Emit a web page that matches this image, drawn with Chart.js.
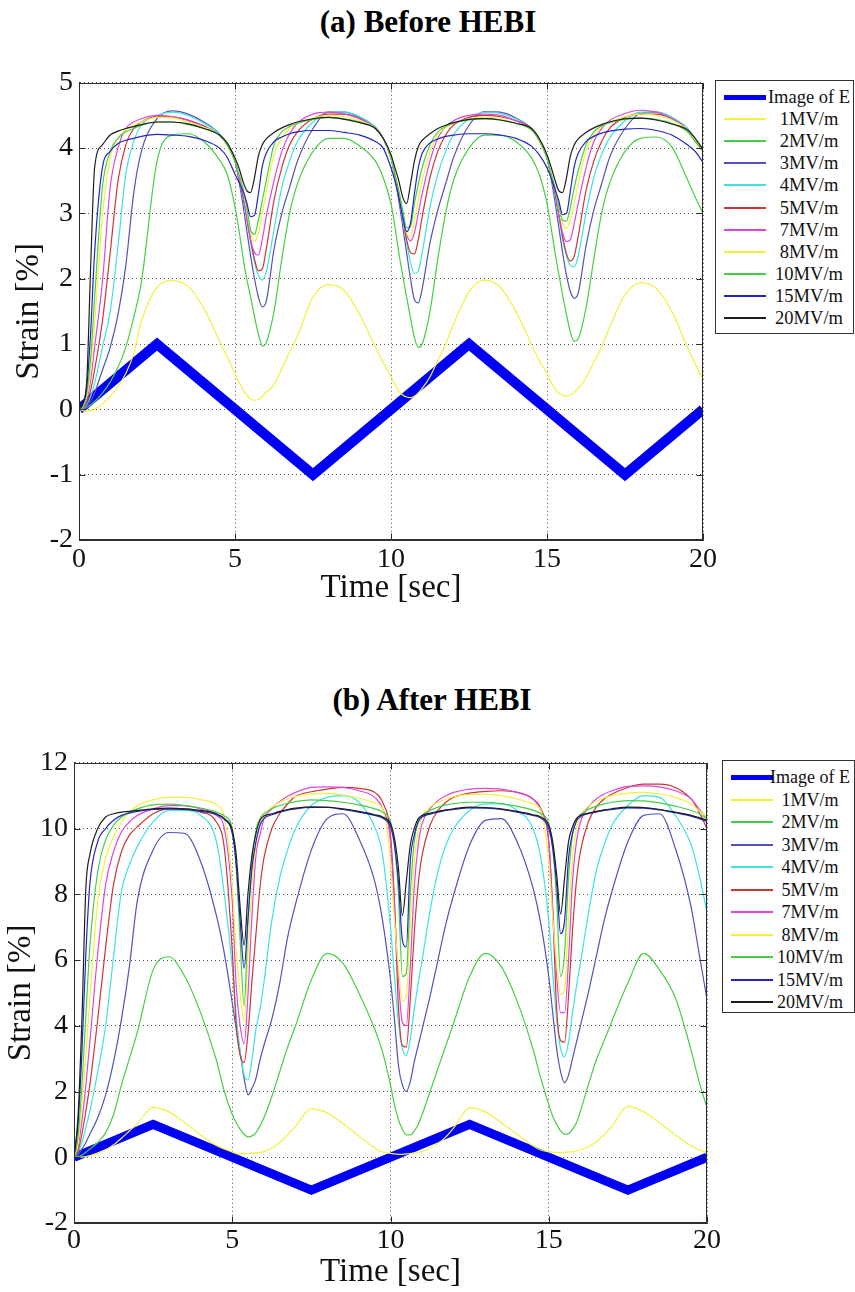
<!DOCTYPE html>
<html>
<head>
<meta charset="utf-8">
<script src="https://cdn.jsdelivr.net/npm/chart.js@4.4.1/dist/chart.umd.min.js"></script>
<style>
html,body{margin:0;padding:0;background:#fff;width:855px;height:1292px;overflow:hidden;position:relative;}
.title{position:absolute;font-family:"Liberation Serif","Times New Roman",serif;font-weight:bold;font-size:31px;line-height:34px;color:#000;white-space:nowrap;transform:translateX(-50%);}
.wrap{position:absolute;left:0;}
.legend{position:absolute;border:1px solid #333;background:#fff;font-family:"Liberation Serif","Times New Roman",serif;color:#111;z-index:2;}
.row{position:absolute;left:0;right:0;height:0;}
.sample{position:absolute;}
.lab{position:absolute;white-space:nowrap;transform:translate(-50%,-50%);top:0;}
</style>
</head>
<body>
<div class="title" style="left:428px;top:5px;">(a) Before HEBI</div>
<div class="wrap" style="top:60px;"><canvas id="cA" width="730" height="560"></canvas></div>
<div class="legend" id="legA" style="left:715px;top:80px;width:137px;height:252px;font-size:18.5px;"></div>

<div class="title" style="left:432px;top:683px;">(b) After HEBI</div>
<div class="wrap" style="top:740px;"><canvas id="cB" width="734" height="552"></canvas></div>
<div class="legend" id="legB" style="left:722px;top:760px;width:131px;height:251px;font-size:18px;"></div>

<script>
// ---------------- data ----------------
const TIME = [0,0.125,0.25,0.375,0.5,0.75,1,1.25,1.5,1.75,2,2.5,3,3.5,4,4.5,4.75,
  5,5.125,5.25,5.375,5.5,5.625,5.75,5.875,6,6.25,6.5,6.75,7,7.5,8,8.5,9,9.5,9.75,
  10,10.125,10.25,10.375,10.5,10.625,10.75,10.875,11,11.25,11.5,11.75,12,12.5,13,13.5,14,14.5,14.75,
  15,15.125,15.25,15.375,15.5,15.625,15.75,15.875,16,16.25,16.5,16.75,17,17.5,18,18.5,19,19.5,19.75,
  20];

const E_TIME = [0, 2.5, 7.5, 12.5, 17.5, 20];
const E_VALUES = [0, 1, -1, 1, -1, 0];

const E_LABEL = 'Image of E';
const FIELD_LABELS = ['1MV/m','2MV/m','3MV/m','4MV/m','5MV/m','7MV/m','8MV/m','10MV/m','15MV/m','20MV/m'];

// (a) Before HEBI
const A_1 = [0,-0.02,-0.03,-0.02,0,0.08,0.2,0.35,0.55,0.85,1.35,1.87,1.97,1.88,1.55,1.05,0.8,
  0.55,0.42,0.3,0.22,0.16,0.14,0.15,0.2,0.26,0.38,0.62,0.88,1.12,1.72,1.91,1.82,1.45,0.95,0.72,
  0.5,0.38,0.28,0.22,0.19,0.18,0.2,0.25,0.32,0.5,0.75,1.0,1.3,1.8,1.98,1.87,1.5,1.0,0.75,
  0.55,0.42,0.32,0.25,0.21,0.2,0.22,0.26,0.32,0.48,0.72,0.95,1.25,1.75,1.94,1.85,1.5,0.95,0.7,
  0.46];
const A_2 = [0,0.01,0.03,0.07,0.12,0.25,0.42,0.65,0.95,1.4,1.95,3.8,4.2,4.22,4.1,3.82,3.6,
  3.1,2.75,2.35,2.0,1.72,1.42,1.15,0.97,1.02,1.5,2.3,3.0,3.45,3.95,4.15,4.15,4.03,3.8,3.55,
  3.15,2.8,2.4,2.05,1.72,1.4,1.1,0.95,1.0,1.5,2.3,3.0,3.5,4.0,4.2,4.2,4.1,3.85,3.6,
  3.15,2.8,2.42,2.08,1.75,1.45,1.18,1.04,1.08,1.55,2.3,3.0,3.45,3.95,4.15,4.17,4.02,3.52,3.25,
  3.0];
const A_3 = [0,0.01,0.04,0.12,0.25,0.6,0.95,1.45,2.2,3.3,3.95,4.45,4.57,4.52,4.4,4.22,4.05,
  3.8,3.5,3.15,2.75,2.35,2.0,1.72,1.57,1.65,2.45,3.0,3.4,3.8,4.3,4.55,4.55,4.47,4.32,4.15,
  3.85,3.55,3.2,2.8,2.4,2.0,1.68,1.63,1.85,2.55,3.05,3.45,3.85,4.35,4.56,4.55,4.46,4.3,4.12,
  3.85,3.55,3.2,2.8,2.4,2.05,1.8,1.7,1.78,2.5,3.05,3.45,3.85,4.3,4.53,4.55,4.47,4.3,4.12,
  3.95];
const A_4 = [0,0.01,0.07,0.2,0.4,0.95,1.5,2.5,3.6,4.1,4.35,4.5,4.55,4.5,4.38,4.22,4.05,
  3.8,3.55,3.25,2.9,2.55,2.25,2.05,1.98,2.1,2.75,3.4,3.8,4.1,4.4,4.55,4.55,4.48,4.32,4.15,
  3.85,3.58,3.28,2.9,2.55,2.25,2.08,2.12,2.4,3.1,3.6,3.95,4.2,4.45,4.55,4.53,4.45,4.3,4.12,
  3.85,3.6,3.3,2.95,2.6,2.35,2.2,2.18,2.35,3.0,3.55,3.9,4.15,4.42,4.55,4.55,4.47,4.3,4.12,
  3.95];
const A_5 = [0,0.02,0.1,0.3,0.6,1.35,2.4,3.5,4.05,4.3,4.4,4.48,4.48,4.43,4.34,4.2,4.05,
  3.8,3.55,3.28,2.95,2.6,2.3,2.12,2.15,2.45,3.2,3.7,4.05,4.25,4.45,4.52,4.52,4.45,4.3,4.15,
  3.85,3.6,3.3,2.95,2.6,2.4,2.38,2.6,2.95,3.55,3.95,4.2,4.35,4.47,4.5,4.48,4.42,4.3,4.12,
  3.85,3.6,3.33,3.0,2.65,2.38,2.27,2.35,2.65,3.35,3.8,4.1,4.3,4.47,4.52,4.52,4.45,4.28,4.12,
  3.95];
const A_7 = [0,0.03,0.15,0.45,0.95,1.95,3.4,4.0,4.3,4.4,4.45,4.5,4.48,4.42,4.33,4.2,4.05,
  3.8,3.55,3.3,2.95,2.6,2.4,2.36,2.6,2.95,3.5,3.95,4.22,4.38,4.52,4.55,4.52,4.45,4.3,4.15,
  3.85,3.6,3.3,2.95,2.68,2.58,2.7,3.0,3.3,3.8,4.15,4.33,4.42,4.5,4.52,4.5,4.42,4.3,4.12,
  3.85,3.6,3.35,3.0,2.7,2.57,2.6,2.85,3.15,3.7,4.1,4.3,4.42,4.53,4.58,4.55,4.45,4.28,4.12,
  3.95];
const A_8 = [0,0.04,0.2,0.6,1.3,2.95,3.85,4.15,4.28,4.35,4.4,4.47,4.46,4.4,4.32,4.2,4.05,
  3.8,3.6,3.38,3.05,2.72,2.57,2.7,3.0,3.33,3.9,4.15,4.3,4.38,4.46,4.5,4.48,4.42,4.3,4.15,
  3.85,3.6,3.35,3.0,2.7,2.65,2.9,3.2,3.5,3.95,4.2,4.32,4.38,4.45,4.47,4.45,4.38,4.28,4.12,
  3.85,3.62,3.4,3.1,2.85,2.77,2.9,3.15,3.45,3.95,4.2,4.33,4.4,4.48,4.52,4.5,4.43,4.28,4.12,
  3.95];
const A_10 = [0,0.05,0.25,0.8,1.7,3.4,3.95,4.15,4.25,4.3,4.35,4.4,4.4,4.36,4.3,4.2,4.05,
  3.8,3.6,3.4,3.1,2.75,2.68,2.9,3.2,3.5,4.05,4.25,4.33,4.38,4.44,4.47,4.45,4.4,4.3,4.15,
  3.85,3.6,3.35,3.05,2.78,2.8,3.15,3.45,3.7,4.05,4.25,4.33,4.38,4.43,4.45,4.43,4.38,4.28,4.12,
  3.85,3.62,3.4,3.12,2.9,2.88,3.1,3.4,3.65,4.05,4.25,4.34,4.39,4.44,4.46,4.44,4.38,4.25,4.1,
  3.95];
const A_15 = [0,0.08,0.35,1.2,2.4,3.7,3.95,4.07,4.12,4.15,4.18,4.21,4.2,4.18,4.12,4.0,3.86,
  3.6,3.48,3.35,3.17,2.95,2.97,3.3,3.72,3.92,4.1,4.17,4.22,4.25,4.27,4.27,4.24,4.2,4.1,4.0,
  3.7,3.5,3.25,2.95,2.72,2.85,3.3,3.7,3.92,4.08,4.14,4.18,4.2,4.22,4.22,4.2,4.15,4.03,3.9,
  3.7,3.55,3.38,3.2,2.98,3.0,3.35,3.72,3.92,4.1,4.18,4.23,4.26,4.29,4.3,4.27,4.2,4.05,3.95,
  3.78];
const A_20 = [0,0.1,0.45,2.2,3.7,4.05,4.2,4.26,4.3,4.33,4.36,4.4,4.4,4.37,4.3,4.2,4.08,
  3.85,3.7,3.5,3.35,3.32,3.55,3.88,4.05,4.14,4.24,4.31,4.36,4.4,4.45,4.47,4.44,4.39,4.3,4.15,
  3.9,3.7,3.5,3.25,3.15,3.45,3.8,4.02,4.12,4.22,4.3,4.35,4.39,4.44,4.45,4.43,4.38,4.3,4.15,
  3.9,3.72,3.52,3.35,3.32,3.55,3.88,4.05,4.14,4.24,4.31,4.36,4.4,4.45,4.46,4.43,4.37,4.28,4.15,
  3.98];

// (b) After HEBI
const B_1 = [0,0,0.01,0.02,0.05,0.12,0.22,0.38,0.58,0.8,1.02,1.52,1.38,1.05,0.68,0.36,0.25,
  0.16,0.12,0.1,0.1,0.11,0.12,0.13,0.15,0.17,0.28,0.45,0.68,0.95,1.47,1.35,1.02,0.65,0.28,0.16,
  0.12,0.1,0.09,0.09,0.1,0.11,0.13,0.15,0.18,0.28,0.42,0.62,0.9,1.5,1.38,1.05,0.7,0.35,0.22,
  0.17,0.15,0.14,0.14,0.15,0.16,0.17,0.19,0.22,0.32,0.47,0.68,0.95,1.55,1.38,1.05,0.68,0.35,0.22,
  0.15];
const B_2 = [0,0.02,0.07,0.15,0.25,0.45,0.75,1.3,2.2,3.0,3.8,5.7,6.1,5.5,4.4,2.95,2.0,
  1.3,1.05,0.85,0.7,0.62,0.65,0.75,0.95,1.2,1.85,2.6,3.35,4.0,5.4,6.2,5.9,5.0,3.9,3.2,
  2.2,1.6,1.15,0.85,0.68,0.68,0.8,1.0,1.3,2.0,2.7,3.4,4.1,5.5,6.2,5.8,4.75,3.3,2.4,
  1.6,1.25,1.0,0.8,0.7,0.72,0.85,1.05,1.4,2.2,2.95,3.55,4.15,5.3,6.2,5.7,4.85,3.25,2.3,
  1.5];
const B_3 = [0,0.08,0.25,0.45,0.7,1.2,1.9,2.9,4.2,5.8,7.8,9.35,9.88,9.85,9.0,7.35,6.2,
  4.7,3.9,3.2,2.4,1.9,2.1,2.4,2.95,3.4,4.2,5.3,6.7,7.7,9.35,10.3,10.45,9.7,8.4,7.2,
  5.4,4.2,2.8,2.2,2.0,2.3,2.9,3.4,3.9,4.9,6.0,7.1,8.0,9.5,10.25,10.3,9.6,8.2,7.1,
  5.5,4.4,3.3,2.6,2.27,2.5,3.0,3.5,4.0,5.0,6.1,7.2,8.1,9.6,10.4,10.45,9.4,7.6,6.2,
  4.8];
const B_4 = [0,0.15,0.45,0.9,1.4,2.6,4.0,6.1,8.1,8.9,9.45,10.2,10.55,10.55,10.4,9.6,8.0,
  5.8,4.3,3.22,2.5,2.35,3.0,3.9,4.5,5.3,7.2,8.5,9.35,10.0,10.7,10.95,11.0,10.8,10.05,9.2,
  7.0,5.5,4.1,3.3,3.1,3.6,4.5,5.3,6.0,7.5,8.7,9.5,10.0,10.55,10.75,10.75,10.55,10.0,9.1,
  7.2,5.6,4.2,3.3,3.05,3.5,4.4,5.2,5.9,7.4,8.7,9.5,10.1,10.7,11.0,10.95,10.4,9.5,8.6,
  7.45];
const B_5 = [0,0.2,0.7,1.4,2.2,4.2,6.4,8.3,9.3,9.8,10.05,10.45,10.6,10.6,10.5,10.2,9.4,
  6.3,4.0,3.1,2.88,3.8,5.4,6.8,8.2,9.1,10.0,10.45,10.75,10.98,11.12,11.2,11.25,11.22,11.1,10.8,
  9.8,7.8,4.6,3.4,3.35,4.8,6.8,8.3,9.2,10.1,10.55,10.8,10.95,11.08,11.13,11.15,11.1,10.9,10.6,
  9.6,7.5,4.5,3.55,3.5,4.9,6.9,8.4,9.3,10.2,10.65,10.9,11.05,11.25,11.35,11.35,11.25,10.9,10.5,
  10.0];
const B_7 = [0,0.3,1.1,2.2,3.5,6.2,8.3,9.3,9.9,10.2,10.4,10.6,10.7,10.7,10.6,10.4,10.0,
  7.8,5.2,4.0,3.45,5.0,7.4,9.2,9.8,10.28,10.6,10.82,10.98,11.1,11.25,11.27,11.25,11.15,10.95,10.6,
  9.6,7.6,5.4,4.1,4.0,5.8,8.2,9.5,10.15,10.6,10.85,11.0,11.1,11.2,11.22,11.2,11.1,10.9,10.55,
  9.6,7.6,5.5,4.4,4.4,6.0,8.4,9.6,10.2,10.65,10.9,11.05,11.15,11.28,11.3,11.27,11.15,10.9,10.6,
  10.3];
const B_8 = [0,0.4,1.6,3.1,4.8,7.8,9.1,9.75,10.2,10.5,10.7,10.88,10.95,10.95,10.88,10.72,10.35,
  8.3,6.3,5.0,4.1,6.2,8.3,9.5,10.1,10.4,10.65,10.8,10.9,10.98,11.05,11.07,11.02,10.93,10.78,10.6,
  9.0,7.2,5.8,4.75,4.9,7.0,9.0,9.9,10.35,10.65,10.8,10.9,10.97,11.04,11.05,11.0,10.9,10.75,10.55,
  9.0,7.3,5.9,4.95,5.1,7.2,9.1,10.0,10.38,10.68,10.83,10.93,11.0,11.08,11.1,11.05,10.95,10.75,10.55,
  10.35];
const B_10 = [0,0.6,2.2,4.3,6.4,8.7,9.65,10.1,10.35,10.5,10.6,10.72,10.74,10.7,10.62,10.5,10.38,
  10.0,8.8,6.6,4.6,7.2,9.0,9.95,10.3,10.45,10.6,10.7,10.77,10.82,10.87,10.85,10.8,10.72,10.6,10.5,
  10.2,9.5,8.0,5.5,5.6,8.0,9.6,10.2,10.4,10.55,10.65,10.72,10.76,10.8,10.8,10.76,10.68,10.56,10.45,
  10.15,9.4,7.8,5.5,6.2,8.5,9.8,10.25,10.42,10.58,10.68,10.75,10.8,10.85,10.84,10.78,10.68,10.55,10.45,
  10.3];
const B_15 = [0,1.0,3.2,6.2,8.3,9.6,10.0,10.25,10.4,10.47,10.52,10.58,10.6,10.58,10.52,10.42,10.28,
  9.85,8.9,7.2,5.75,7.3,8.8,9.6,10.1,10.3,10.42,10.5,10.56,10.6,10.64,10.64,10.58,10.5,10.4,10.32,
  10.05,9.5,8.4,6.6,6.4,9.0,9.8,10.2,10.35,10.44,10.5,10.55,10.58,10.63,10.62,10.58,10.5,10.4,10.32,
  10.0,9.4,8.3,6.8,7.2,9.1,9.85,10.22,10.36,10.45,10.5,10.55,10.58,10.63,10.62,10.57,10.48,10.38,10.3,
  10.22];
const B_20 = [0,1.2,4.2,8.2,9.2,10.0,10.35,10.45,10.5,10.52,10.55,10.6,10.62,10.6,10.55,10.45,10.3,
  9.95,9.2,7.6,6.45,8.05,9.2,9.85,10.25,10.38,10.45,10.52,10.58,10.62,10.66,10.65,10.6,10.52,10.42,10.35,
  10.15,9.7,8.8,7.35,8.4,9.5,10.0,10.3,10.4,10.47,10.52,10.57,10.6,10.65,10.64,10.6,10.52,10.42,10.35,
  10.1,9.6,8.6,7.4,8.5,9.6,10.05,10.3,10.4,10.47,10.52,10.57,10.6,10.65,10.64,10.58,10.5,10.4,10.33,
  10.25];

const SERIES_A = [A_1, A_2, A_3, A_4, A_5, A_7, A_8, A_10, A_15, A_20];
const SERIES_B = [B_1, B_2, B_3, B_4, B_5, B_7, B_8, B_10, B_15, B_20];

// ---------------- styles ----------------
const E_COLOR = '#0000f5';
const FIELD_COLORS = ['#f2f23c','#46cf46','#5252b8','#3ce3e3','#cc3636','#e045e0','#f2f23c','#46cf46','#2424c8','#1e1e1e'];
const FONT = '"Liberation Serif", "Times New Roman", serif';

Chart.defaults.font.family = FONT;
Chart.defaults.color = '#111';

const framePlugin = {
  id: 'frame',
  afterDatasetsDraw(chart) {
    const {ctx, chartArea: a} = chart;
    const xs = chart.scales.x, ys = chart.scales.y;
    ctx.save();
    ctx.strokeStyle = '#2a2a2a';
    ctx.lineWidth = 1;
    ctx.setLineDash([]);
    const L = Math.round(a.left) + 0.5, R = Math.round(a.right) - 0.5;
    const T = Math.round(a.top) + 0.5, B = Math.round(a.bottom) - 0.5;
    ctx.strokeRect(L, T, R - L, B - T);
    ctx.beginPath();
    xs.ticks.forEach(t => {
      const px = Math.round(xs.getPixelForValue(t.value)) + 0.5;
      ctx.moveTo(px, B); ctx.lineTo(px, B - 6);
      ctx.moveTo(px, T); ctx.lineTo(px, T + 6);
    });
    ys.ticks.forEach(t => {
      const py = Math.round(ys.getPixelForValue(t.value)) + 0.5;
      ctx.moveTo(L, py); ctx.lineTo(L + 6, py);
      ctx.moveTo(R, py); ctx.lineTo(R - 6, py);
    });
    ctx.stroke();
    ctx.restore();
  }
};

function buildDatasets(series, eWidth) {
  const ds = [{
    label: E_LABEL,
    data: E_TIME.map((t, i) => ({x: t, y: E_VALUES[i]})),
    borderColor: E_COLOR,
    borderWidth: eWidth,
    tension: 0,
    borderJoinStyle: 'miter',
    pointRadius: 0,
    order: 10
  }];
  series.forEach((vals, k) => {
    ds.push({
      label: FIELD_LABELS[k],
      data: TIME.map((t, i) => ({x: t, y: vals[i]})),
      borderColor: FIELD_COLORS[k],
      borderWidth: 1.2,
      cubicInterpolationMode: 'monotone',
      pointRadius: 0,
      order: 9 - k
    });
  });
  return ds;
}

function makeChart(id, series, cfg) {
  return new Chart(document.getElementById(id), {
    type: 'line',
    data: { datasets: buildDatasets(series, cfg.eWidth) },
    options: {
      responsive: false,
      animation: false,
      devicePixelRatio: 1,
      layout: { padding: cfg.pad },
      plugins: { legend: { display: false }, tooltip: { enabled: false } },
      scales: {
        x: {
          type: 'linear', min: 0, max: 20,
          ticks: { stepSize: 5, font: { size: 28, family: FONT }, color: '#111', padding: cfg.xTickPad, maxRotation: 0 },
          grid: { color: '#555', lineWidth: 1, drawTicks: false },
          border: { display: true, color: '#333', dash: [1, 3] },
          title: { display: true, text: 'Time [sec]', font: { size: 33, family: FONT }, color: '#111', padding: { top: 0, bottom: cfg.xTitlePad } },
          afterFit: s => { s.height = cfg.xAxisH; }
        },
        y: {
          type: 'linear', min: cfg.yMin, max: cfg.yMax,
          ticks: { stepSize: cfg.yStep, font: { size: 28, family: FONT }, color: '#111', padding: 6 },
          grid: { color: '#555', lineWidth: 1, drawTicks: false },
          border: { display: true, color: '#333', dash: [1, 3] },
          title: { display: true, text: 'Strain [%]', font: { size: 33, family: FONT }, color: '#111', padding: { top: cfg.yTitlePad, bottom: 0 } },
          afterFit: s => { s.width = cfg.yAxisW; }
        }
      }
    },
    plugins: [framePlugin]
  });
}

makeChart('cA', SERIES_A, {
  eWidth: 10, pad: { top: 20, right: 27, bottom: 0, left: 0 },
  yMin: -2, yMax: 5, yStep: 1, yAxisW: 79, xAxisH: 80,
  xTickPad: 3, xTitlePad: 12, yTitlePad: 10
});
makeChart('cB', SERIES_B, {
  eWidth: 9, pad: { top: 19, right: 27, bottom: 0, left: 0 },
  yMin: -2, yMax: 12, yStep: 2, yAxisW: 74, xAxisH: 69,
  xTickPad: 1, xTitlePad: 0, yTitlePad: 2
});

// ---------------- legends (HTML, built from the same labels/colours) ----------------
function buildLegend(id, firstY, step, sx, sw, labelX) {
  const box = document.getElementById(id);
  const items = [{label: E_LABEL, color: E_COLOR, w: 5}].concat(FIELD_LABELS.map((l, k) => ({label: l, color: FIELD_COLORS[k], w: 2})));
  items.forEach((it, i) => {
    const row = document.createElement('div');
    row.className = 'row';
    row.style.top = Math.round(firstY + i * step) + 'px';
    const s = document.createElement('div');
    s.className = 'sample';
    s.style.left = sx + 'px';
    s.style.width = sw + 'px';
    s.style.height = it.w + 'px';
    s.style.top = (-Math.floor(it.w / 2)) + 'px';
    s.style.background = it.color;
    const l = document.createElement('div');
    l.className = 'lab';
    l.style.left = labelX + 'px';
    l.textContent = it.label;
    row.appendChild(s);
    row.appendChild(l);
    box.appendChild(row);
  });
}
buildLegend('legA', 16, 22.1, 8, 42, 93);
buildLegend('legB', 16, 22.5, 8, 42, 87);
</script>
</body>
</html>
